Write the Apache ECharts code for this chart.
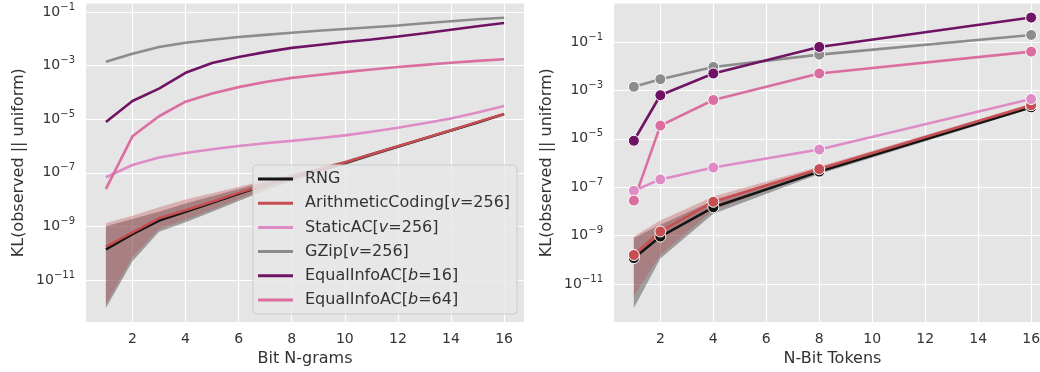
<!DOCTYPE html>
<html>
<head>
<meta charset="utf-8">
<script src="https://cdn.jsdelivr.net/npm/echarts@6/dist/echarts.min.js"></script>
<style>
  html, body { margin: 0; padding: 0; background: #fff; }
  #chart { width: 1040px; height: 372px; }
</style>
</head>
<body>
<div id="chart"></div>
<script>
// left panel: bit n-grams
const ngramX = [1, 2, 3, 4, 5, 6, 7, 8, 9, 10, 11, 12, 13, 14, 15, 16];
const ngramRNG = [1.38e-10, 5.1e-10, 1.66e-9, 3.5e-9, 7.6e-9, 1.66e-8, 3.5e-8, 6.8e-8, 1.26e-7, 2.3e-7, 4.8e-7, 9.5e-7, 1.9e-6, 3.8e-6, 7.6e-6, 1.55e-5];
const ngramAC = [1.74e-10, 6.0e-10, 2.0e-9, 4.0e-9, 8.3e-9, 1.78e-8, 3.6e-8, 7.1e-8, 1.29e-7, 2.4e-7, 4.9e-7, 9.8e-7, 1.95e-6, 3.9e-6, 7.8e-6, 1.58e-5];
const ngramStatic = [6.8e-8, 1.95e-7, 3.7e-7, 5.5e-7, 7.6e-7, 1.0e-6, 1.26e-6, 1.55e-6, 1.95e-6, 2.5e-6, 3.4e-6, 4.8e-6, 7.1e-6, 1.07e-5, 1.78e-5, 3.1e-5];
const ngramGZip = [1.4e-3, 2.8e-3, 5.0e-3, 7.2e-3, 9.3e-3, 1.17e-2, 1.41e-2, 1.7e-2, 2.0e-2, 2.34e-2, 2.72e-2, 3.16e-2, 3.8e-2, 4.57e-2, 5.37e-2, 6.17e-2];
const ngramEq16 = [7.9e-6, 4.8e-5, 1.38e-4, 5.4e-4, 1.26e-3, 2.1e-3, 3.2e-3, 4.6e-3, 5.9e-3, 7.6e-3, 9.5e-3, 1.23e-2, 1.62e-2, 2.19e-2, 2.95e-2, 3.9e-2];
const ngramEq64 = [2.5e-8, 2.3e-6, 1.29e-5, 4.5e-5, 9.1e-5, 1.58e-4, 2.45e-4, 3.5e-4, 4.5e-4, 5.75e-4, 7.2e-4, 8.9e-4, 1.07e-3, 1.29e-3, 1.51e-3, 1.74e-3];
const ngramRNGLo = [8.9e-13, 5.0e-11, 6.3e-10, 1.41e-9, 3.5e-9, 8.9e-9, 2.19e-8, 4.8e-8, 1.0e-7, 1.95e-7, 4.1e-7, 8.3e-7, 1.7e-6, 3.47e-6, 6.9e-6, 1.41e-5];
const ngramRNGHi = [1.0e-9, 1.9e-9, 3.5e-9, 7.1e-9, 1.32e-8, 2.5e-8, 4.7e-8, 8.7e-8, 1.5e-7, 2.75e-7, 5.5e-7, 1.07e-6, 2.1e-6, 4.2e-6, 8.3e-6, 1.7e-5];
const ngramACLo = [1.26e-12, 7.1e-11, 7.9e-10, 1.78e-9, 4.2e-9, 1.05e-8, 2.5e-8, 5.4e-8, 1.07e-7, 2.0e-7, 4.3e-7, 8.7e-7, 1.78e-6, 3.5e-6, 7.1e-6, 1.45e-5];
const ngramACHi = [1.32e-9, 2.5e-9, 5.2e-9, 1.0e-8, 1.74e-8, 3.0e-8, 5.2e-8, 9.3e-8, 1.58e-7, 2.8e-7, 5.6e-7, 1.1e-6, 2.1e-6, 4.3e-6, 8.5e-6, 1.74e-5];

// right panel: n-bit tokens
const tokenX = [1, 2, 4, 8, 16];
const tokenRNG = [1.17e-10, 9.1e-10, 1.48e-8, 4.4e-7, 2.0e-4];
const tokenAC = [1.58e-10, 1.48e-9, 2.5e-8, 5.6e-7, 2.45e-4];
const tokenStatic = [7.1e-8, 2.1e-7, 6.5e-7, 3.6e-6, 4.4e-4];
const tokenGZip = [1.41e-3, 2.9e-3, 9.3e-3, 3.0e-2, 0.195];
const tokenEq16 = [8.3e-6, 6.3e-4, 5.0e-3, 6.2e-2, 1.02];
const tokenEq64 = [2.8e-8, 3.5e-5, 4.0e-4, 5.0e-3, 4.0e-2];
const tokenRNGLo = [1.02e-12, 1.12e-10, 7.9e-9, 3.5e-7, 1.74e-4];
const tokenRNGHi = [7.9e-10, 2.8e-9, 2.8e-8, 5.4e-7, 2.3e-4];
const tokenACLo = [3.2e-12, 1.58e-10, 1.12e-8, 4.7e-7, 2.1e-4];
const tokenACHi = [9.1e-10, 4.2e-9, 4.1e-8, 7.1e-7, 2.8e-4];

const names = ['RNG', 'ArithmeticCoding[v=256]', 'StaticAC[v=256]', 'GZip[v=256]', 'EqualInfoAC[b=16]', 'EqualInfoAC[b=64]'];
const colors = ['#141414', '#c44e52', '#de8bc6', '#8c8c8c', '#6f1465', '#db6ea0'];
const xTicks = [2, 4, 6, 8, 10, 12, 14, 16];
const yTicks = [-11, -9, -7, -5, -3, -1];

const font = 'DejaVu Sans';
const textColor = '#333333';

const pts = (xs, ys) => xs.map((x, i) => [x, Math.log10(ys[i])]);

// shaded spread drawn as one polygon through the axis scales
function bandSeries(xs, lo, hi, color, idx) {
  const rows = xs.map((x, i) => [x, Math.log10(lo[i]), Math.log10(hi[i])]);
  return {
    type: 'custom', xAxisIndex: idx, yAxisIndex: idx, silent: true, clip: true,
    data: rows,
    renderItem: function (params, api) {
      if (params.dataIndex !== 0) return null;
      const top = rows.map(r => api.coord([r[0], r[2]]));
      const bottom = rows.map(r => api.coord([r[0], r[1]])).reverse();
      return {
        type: 'polygon',
        shape: { points: top.concat(bottom) },
        style: { fill: color }
      };
    }
  };
}

function lineSeries(k, xs, ys, idx, markers) {
  return {
    type: 'line', name: names[k], xAxisIndex: idx, yAxisIndex: idx,
    color: colors[k],
    symbol: markers ? 'circle' : 'none',
    symbolSize: 11,
    showSymbol: markers,
    itemStyle: { color: colors[k], borderColor: '#ffffff', borderWidth: 1 },
    lineStyle: { width: 2.6, color: colors[k] },
    data: pts(xs, ys)
  };
}

function xAxisCfg(idx, name) {
  return {
    type: 'value', gridIndex: idx, min: 0.25, max: 16.75,
    name: name, nameLocation: 'middle', nameGap: 27,
    nameTextStyle: { fontFamily: font, fontSize: 16, color: textColor },
    axisLine: { show: false },
    axisTick: { show: false, customValues: xTicks },
    axisLabel: { customValues: xTicks, margin: 10, fontFamily: font, fontSize: 14, color: textColor },
    splitLine: { show: true, lineStyle: { color: '#ffffff', width: 1.2 } }
  };
}

function yAxisCfg(idx, min, max, gap) {
  return {
    type: 'value', gridIndex: idx, min: min, max: max,
    name: 'KL(observed || uniform)', nameLocation: 'middle', nameGap: gap,
    nameTextStyle: { fontFamily: font, fontSize: 16, color: textColor },
    axisLine: { show: false },
    axisTick: { show: false, customValues: yTicks },
    axisLabel: {
      customValues: yTicks, margin: 11,
      formatter: v => '{b|10}{s|' + (v < 0 ? '\u2212' : '') + Math.abs(v) + '}',
      rich: {
        b: { fontFamily: font, fontSize: 14, color: textColor, lineHeight: 20 },
        s: { fontFamily: font, fontSize: 10, color: textColor, lineHeight: 11, verticalAlign: 'top' }
      }
    },
    splitLine: { show: true, lineStyle: { color: '#ffffff', width: 1.2 } }
  };
}

const greyBand = 'rgba(20,20,20,0.35)';
const redBand = 'rgba(196,78,82,0.35)';

const series = [
  bandSeries(ngramX, ngramRNGLo, ngramRNGHi, greyBand, 0),
  bandSeries(ngramX, ngramACLo, ngramACHi, redBand, 0),
  lineSeries(0, ngramX, ngramRNG, 0, false),
  lineSeries(1, ngramX, ngramAC, 0, false),
  lineSeries(2, ngramX, ngramStatic, 0, false),
  lineSeries(3, ngramX, ngramGZip, 0, false),
  lineSeries(4, ngramX, ngramEq16, 0, false),
  lineSeries(5, ngramX, ngramEq64, 0, false),
  bandSeries(tokenX, tokenRNGLo, tokenRNGHi, greyBand, 1),
  bandSeries(tokenX, tokenACLo, tokenACHi, redBand, 1),
  lineSeries(0, tokenX, tokenRNG, 1, true),
  lineSeries(1, tokenX, tokenAC, 1, true),
  lineSeries(2, tokenX, tokenStatic, 1, true),
  lineSeries(3, tokenX, tokenGZip, 1, true),
  lineSeries(4, tokenX, tokenEq16, 1, true),
  lineSeries(5, tokenX, tokenEq64, 1, true)
];

const chart = echarts.init(document.getElementById('chart'), null, { renderer: 'canvas' });
chart.setOption({
  animation: false,
  backgroundColor: '#ffffff',
  grid: [
    { left: 86, top: 3.5, width: 438, height: 318.5, show: true, backgroundColor: '#e5e5e5', borderWidth: 0, containLabel: false, outerBoundsMode: 'none' },
    { left: 614, top: 3.5, width: 437, height: 318.5, show: true, backgroundColor: '#e5e5e5', borderWidth: 0, containLabel: false, outerBoundsMode: 'none' }
  ],
  xAxis: [xAxisCfg(0, 'Bit N-grams'), xAxisCfg(1, 'N-Bit Tokens')],
  yAxis: [yAxisCfg(0, -12.57, -0.68, 59), yAxisCfg(1, -12.57, 0.59, 59)],
  legend: {
    data: names,
    left: 253, top: 165,
    orient: 'vertical',
    icon: 'rect',
    itemWidth: 35, itemHeight: 3, itemGap: 4.2,
    itemStyle: { borderWidth: 0 },
    padding: [4, 7, 4, 5],
    backgroundColor: 'rgba(232,232,232,0.85)',
    borderColor: '#cccccc', borderWidth: 1, borderRadius: 4,
    selectedMode: false,
    formatter: n => n.replace(/\[(v|b)=/, '[{i|$1}='),
    textStyle: {
      fontFamily: font, fontSize: 16, color: textColor, lineHeight: 20, padding: [0, 0, 0, 7],
      rich: { i: { fontFamily: font, fontSize: 16, fontStyle: 'italic', color: textColor } }
    }
  },
  series: series
});
</script>
</body>
</html>
